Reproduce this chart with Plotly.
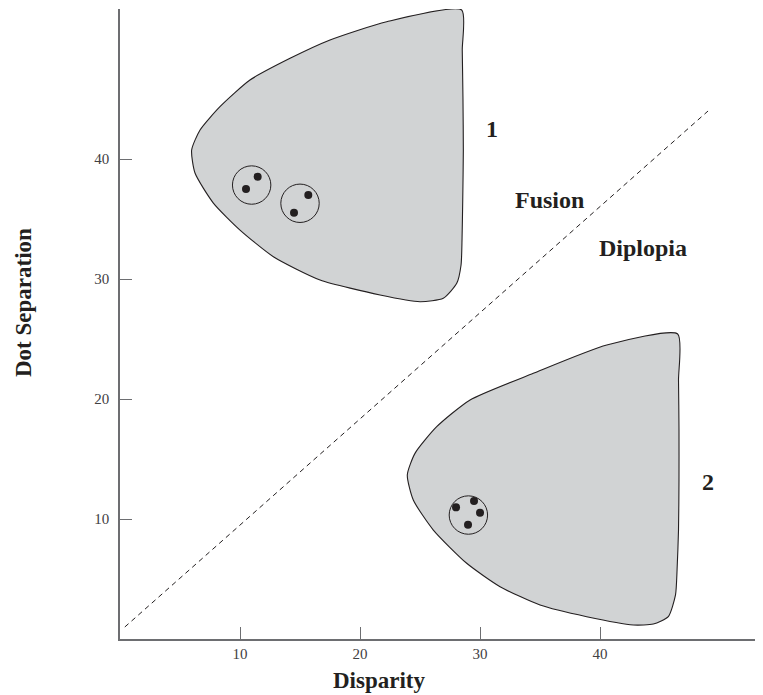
import plotly.graph_objects as go

# Region outlines (Disparity, Dot Separation)
region1_x = [28.47, 28.52, 28.58, 28.61, 28.56, 28.50, 28.42, 28.06, 26.94, 25.00, 21.67, 16.67, 12.78, 10.00, 7.78, 6.25, 5.97, 6.67, 8.33, 10.83, 14.17, 17.50, 22.22, 28.47]
region1_y = [52.42, 49.08, 44.92, 40.75, 36.58, 33.25, 31.17, 29.64, 28.39, 28.11, 28.67, 29.92, 31.86, 34.08, 36.33, 38.83, 40.75, 42.42, 44.36, 46.58, 48.39, 49.92, 51.44, 52.42]

region2_x = [46.47, 46.54, 46.58, 46.58, 46.54, 46.42, 46.29, 45.69, 44.44, 42.78, 38.89, 35.00, 31.67, 28.89, 26.11, 24.44, 23.94, 24.58, 26.39, 29.17, 34.44, 40.56, 46.47]
region2_y = [25.42, 21.58, 17.42, 13.25, 9.08, 5.75, 3.67, 1.86, 1.25, 1.17, 1.86, 2.83, 4.36, 6.31, 9.08, 11.58, 13.67, 15.47, 17.69, 19.92, 22.14, 24.50, 25.42]

# Dot-pair / quad stimuli
ring_x = [10.97, 15.00, 29.03]
ring_y = [37.83, 36.31, 10.33]
ring_r = [1.6, 1.6, 1.6]

dots_x = [11.47, 10.50, 15.69, 14.50, 28.00, 29.50, 30.00, 29.00]
dots_y = [38.53, 37.50, 37.00, 35.53, 10.97, 11.50, 10.53, 9.53]

# Fusion / diplopia boundary
boundary_x = [0.4, 49.0]
boundary_y = [1.0, 44.0]

# Labels
label_text = ["1", "Fusion", "Diplopia", "2"]
label_x = [30.97, 35.83, 43.61, 49.03]
label_y = [42.53, 36.58, 32.56, 13.11]

tick_vals = [10, 20, 30, 40]
tick_text = ["10", "20", "30", "40"]

FONT = "Liberation Serif, Times New Roman, serif"
FILL = "#d1d3d4"
AXIS = "#6d6e71"
INK = "#231f20"

fig = go.Figure()

for rx, ry in [(region1_x, region1_y), (region2_x, region2_y)]:
    fig.add_trace(go.Scatter(
        x=rx, y=ry, mode="lines", fill="toself", fillcolor=FILL,
        line=dict(color=INK, width=1.1, shape="spline", smoothing=0.6),
        hoverinfo="skip", showlegend=False))

fig.add_trace(go.Scatter(
    x=boundary_x, y=boundary_y, mode="lines",
    line=dict(color=INK, width=1, dash="5px,4px"),
    hoverinfo="skip", showlegend=False))

fig.add_trace(go.Scatter(
    x=dots_x, y=dots_y, mode="markers",
    marker=dict(color=INK, size=8, line=dict(width=0)),
    hoverinfo="skip", showlegend=False))

shapes = []
for cx, cy, r in zip(ring_x, ring_y, ring_r):
    shapes.append(dict(type="circle", xref="x", yref="y",
                       x0=cx - r, x1=cx + r, y0=cy - r, y1=cy + r,
                       line=dict(color=INK, width=1)))

annotations = []
for t, lx, ly in zip(label_text, label_x, label_y):
    annotations.append(dict(x=lx, y=ly, xref="x", yref="y", text="<b>" + t + "</b>",
                            showarrow=False, xanchor="center", yanchor="middle",
                            font=dict(family=FONT, size=24, color=INK)))

annotations.append(dict(x=21.6, y=0, xref="x", yref="paper", text="<b>Disparity</b>",
                        showarrow=False, xanchor="center", yanchor="middle", yshift=-41,
                        font=dict(family=FONT, size=23, color=INK)))
annotations.append(dict(x=0, y=28, xref="paper", yref="y", text="<b>Dot Separation</b>",
                        showarrow=False, xanchor="center", yanchor="middle", xshift=-97,
                        textangle=-90,
                        font=dict(family=FONT, size=23, color=INK)))

axis_common = dict(showgrid=False, zeroline=False,
                   showline=True, linecolor=AXIS, linewidth=1.5,
                   ticks="inside", ticklen=12, tickwidth=1.3, tickcolor=AXIS,
                   tickvals=tick_vals, ticktext=tick_text,
                   tickfont=dict(family=FONT, size=15, color="#414042"))

fig.update_layout(
    width=763, height=695,
    margin=dict(l=112, r=8, t=1, b=64),
    plot_bgcolor="white", paper_bgcolor="white",
    shapes=shapes, annotations=annotations,
    xaxis=dict(range=[0, 53.58], **axis_common),
    yaxis=dict(range=[0, 52.5], ticklabelstandoff=6, **axis_common),
)

fig.write_html("out.html")
